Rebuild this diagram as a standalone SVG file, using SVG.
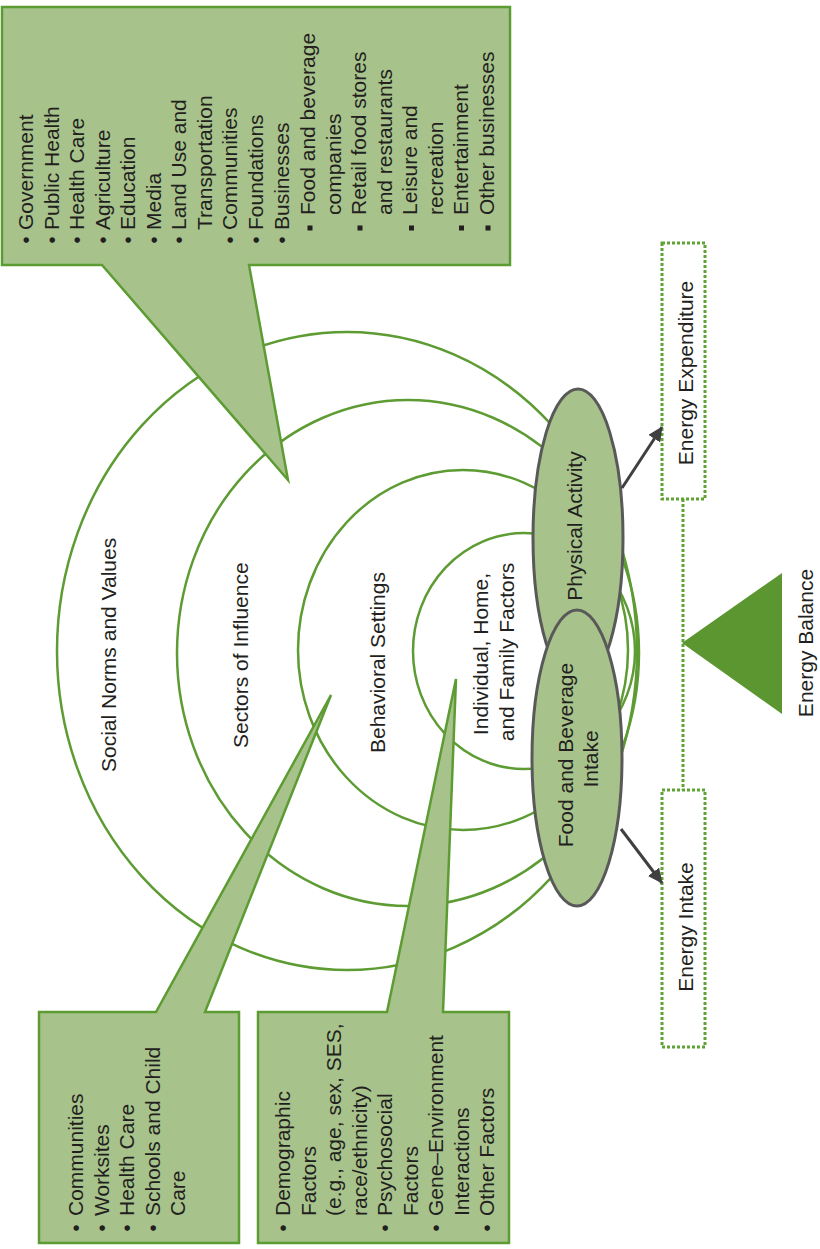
<svg xmlns="http://www.w3.org/2000/svg" width="820" height="1249" viewBox="0 0 820 1249">
<style>
text{font-family:"Liberation Sans",Arial,sans-serif;font-size:21px;fill:#231f20}
.ring{fill:none;stroke:#5d9b33;stroke-width:2.5}
.callout{fill:#a7c38b;stroke:#5d9b33;stroke-width:2.5;stroke-linejoin:miter}
.oval{fill:#a7c38b;stroke:#595959;stroke-width:3}
.dot{fill:none;stroke:#5ea334;stroke-width:3;stroke-dasharray:3 2}
.arrow{stroke:#404040;stroke-width:3;fill:none}
.sq{fill:#231f20}
.mid{text-anchor:middle}
</style>
<defs>
<marker id="ah" markerUnits="userSpaceOnUse" markerWidth="16" markerHeight="14" refX="14" refY="7" orient="auto">
<path d="M0,0 L15,7 L0,14 Z" fill="#404040"/>
</marker>
</defs>
<rect width="820" height="1249" fill="#ffffff"/>

<g id="ring-social">
<ellipse class="ring" cx="347" cy="651" rx="290" ry="319"/>
<text transform="rotate(-90)" x="-772" y="116">Social Norms and Values</text>
</g>
<g id="ring-sectors">
<ellipse class="ring" cx="408" cy="653" rx="231" ry="253"/>
<text transform="rotate(-90)" x="-748" y="248">Sectors of Influence</text>
</g>
<g id="ring-settings">
<ellipse class="ring" cx="463" cy="650" rx="165" ry="180"/>
<text transform="rotate(-90)" x="-753" y="385">Behavioral Settings</text>
</g>
<g id="ring-individual">
<ellipse class="ring" cx="524" cy="651" rx="111" ry="118"/>
<text transform="rotate(-90)" class="mid" x="-654" y="488">Individual, Home,</text>
<text transform="rotate(-90)" class="mid" x="-652" y="514">and Family Factors</text>
</g>

<g id="callout-sectors">
<path class="callout" d="M2,7 H510 V265 H249 L288,480 L102,265 H2 Z"/>
<g transform="rotate(-90)">
<text class="mid" x="-240" y="33">•</text><text x="-230" y="33">Government</text>
<text class="mid" x="-240" y="58.5">•</text><text x="-230" y="58.5">Public Health</text>
<text class="mid" x="-240" y="84">•</text><text x="-230" y="84">Health Care</text>
<text class="mid" x="-240" y="109.5">•</text><text x="-230" y="109.5">Agriculture</text>
<text class="mid" x="-240" y="135">•</text><text x="-230" y="135">Education</text>
<text class="mid" x="-240" y="160.5">•</text><text x="-230" y="160.5">Media</text>
<text class="mid" x="-240" y="186">•</text><text x="-230" y="186">Land Use and</text>
<text x="-230" y="211.5">Transportation</text>
<text class="mid" x="-240" y="237">•</text><text x="-230" y="237">Communities</text>
<text class="mid" x="-240" y="262.5">•</text><text x="-230" y="262.5">Foundations</text>
<text class="mid" x="-240" y="289">•</text><text x="-230" y="289">Businesses</text>
<text x="-215" y="315">Food and beverage</text>
<text x="-215" y="340.5">companies</text>
<text x="-215" y="366">Retail food stores</text>
<text x="-215" y="391.5">and restaurants</text>
<text x="-215" y="417">Leisure and</text>
<text x="-215" y="442.5">recreation</text>
<text x="-215" y="468">Entertainment</text>
<text x="-215" y="493.5">Other businesses</text>
</g>
<rect class="sq" x="307.5" y="225.5" width="5" height="5"/>
<rect class="sq" x="357.5" y="225.5" width="5" height="5"/>
<rect class="sq" x="409" y="225.5" width="5" height="5"/>
<rect class="sq" x="459" y="225.5" width="5" height="5"/>
<rect class="sq" x="485.5" y="225.5" width="5" height="5"/>
</g>

<g id="callout-settings">
<path class="callout" d="M39,1012 H156 L331,695 L205,1012 H239 V1243 H39 Z"/>
<g transform="rotate(-90)">
<text class="mid" x="-1228" y="83">•</text><text x="-1216" y="83">Communities</text>
<text class="mid" x="-1228" y="108.5">•</text><text x="-1216" y="108.5">Worksites</text>
<text class="mid" x="-1228" y="134">•</text><text x="-1216" y="134">Health Care</text>
<text class="mid" x="-1228" y="159.5">•</text><text x="-1216" y="159.5">Schools and Child</text>
<text x="-1216" y="185">Care</text>
</g>
</g>

<g id="callout-individual">
<path class="callout" d="M258,1012 H387 L456,679 L443,1012 H509 V1243 H258 Z"/>
<g transform="rotate(-90)">
<text class="mid" x="-1228" y="290">•</text><text x="-1216" y="290">Demographic</text>
<text x="-1216" y="315.5">Factors</text>
<text x="-1216" y="341">(e.g., age, sex, SES,</text>
<text x="-1216" y="366.5">race/ethnicity)</text>
<text class="mid" x="-1228" y="392">•</text><text x="-1216" y="392">Psychosocial</text>
<text x="-1216" y="417.5">Factors</text>
<text class="mid" x="-1228" y="443">•</text><text x="-1216" y="443">Gene–Environment</text>
<text x="-1216" y="468.5">Interactions</text>
<text class="mid" x="-1228" y="494">•</text><text x="-1216" y="494">Other Factors</text>
</g>
</g>

<g id="physical-activity">
<ellipse class="oval" cx="578" cy="538" rx="45" ry="149"/>
<text transform="rotate(-90)" class="mid" x="-526" y="582">Physical Activity</text>
</g>
<g id="food-intake">
<ellipse class="oval" cx="577" cy="758" rx="45" ry="148"/>
<text transform="rotate(-90)" class="mid" x="-755" y="573">Food and Beverage</text>
<text transform="rotate(-90)" class="mid" x="-759" y="598">Intake</text>
</g>

<g id="energy-expenditure">
<rect class="dot" x="662" y="243" width="43" height="256"/>
<text transform="rotate(-90)" class="mid" x="-373" y="693">Energy Expenditure</text>
</g>
<g id="energy-intake">
<rect class="dot" x="662" y="790" width="43" height="257"/>
<text transform="rotate(-90)" class="mid" x="-927" y="693">Energy Intake</text>
</g>
<g id="energy-balance">
<polygon points="682,643 782,573 782,714" fill="#5b9631"/>
<text transform="rotate(-90)" class="mid" x="-643" y="813">Energy Balance</text>
</g>

<g id="connectors">
<line class="dot" x1="683" y1="499" x2="683" y2="790"/>
<line class="arrow" x1="622" y1="488" x2="662" y2="427" marker-end="url(#ah)"/>
<line class="arrow" x1="621" y1="829" x2="662" y2="883" marker-end="url(#ah)"/>
</g>
</svg>
